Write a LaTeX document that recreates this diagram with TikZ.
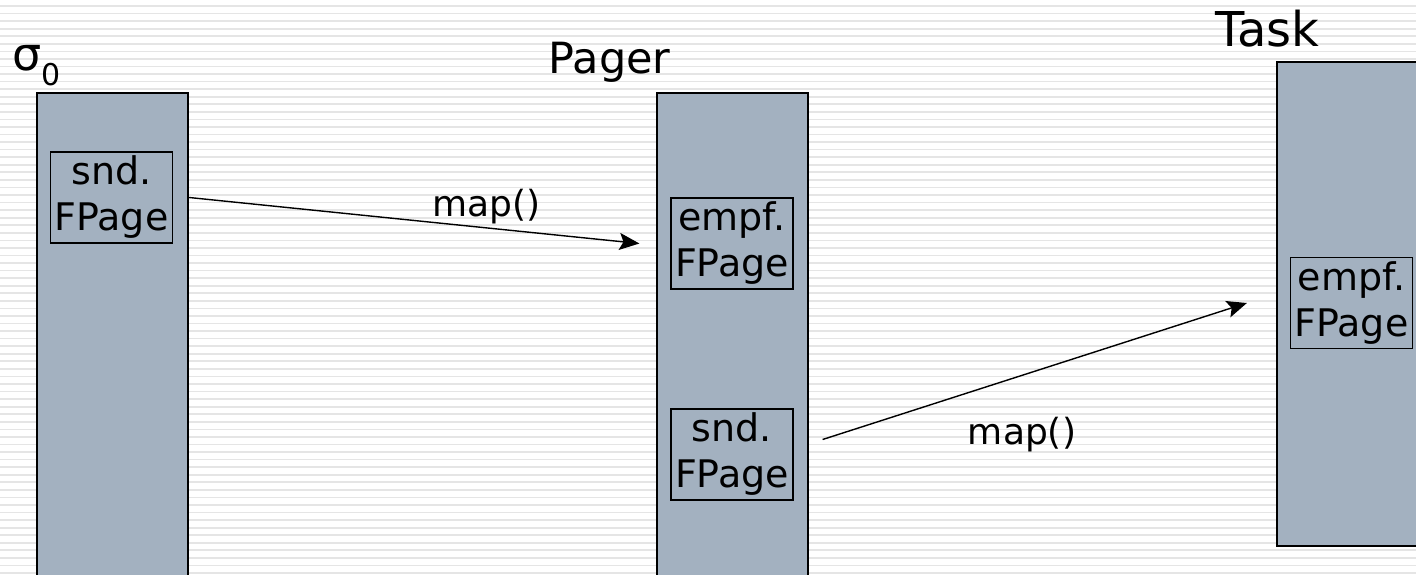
\documentclass[tikz,border=0pt]{standalone}
\usepackage{fontspec}
\setmainfont{DejaVu Sans}
\usetikzlibrary{arrows.meta}
\usetikzlibrary{positioning}
\definecolor{spacefill}{RGB}{163,177,192}
\definecolor{stripegray}{RGB}{229,229,229}

\begin{document}
\begin{tikzpicture}[x=1pt,y=-1pt,line width=1.4pt]
		\tikzstyle{addrspace}=[draw,line width=2.2pt,fill=spacefill,anchor=north west,inner sep=0pt]
		\tikzstyle{fpage}=[draw,line width=1.2pt,align=center,minimum width=122pt,
		minimum height=91pt,inner sep=0pt,font=\fontsize{38}{46}\selectfont]
		\tikzstyle{title}=[anchor=base west,inner sep=0pt]
		\tikzstyle{msg}=[inner sep=0pt,font=\fontsize{36}{40}\selectfont]
		\tikzstyle{call}=[-{Stealth[length=20pt,width=17pt,inset=4pt]}]
		
		\useasboundingbox (0,0) rectangle (1416,574);
		% striped background
		\foreach \i in {0,...,75}
		\draw[stripegray,line width=1.7pt] (0,6+\i*7.56) -- (1416,6+\i*7.56);
		
		% the three address spaces
		\node[addrspace,minimum width=151pt,minimum height=500pt] (Sigma) at (36,92) {};
		\node[addrspace,minimum width=151pt,minimum height=500pt] (Pager) at (656,92) {};
		\node[addrspace,minimum width=153pt,minimum height=484pt] (Task)  at (1276,61) {};
		
		\node[title,font=\fontsize{46}{50}\selectfont] (SigmaName) at (12,70)
		{σ\raisebox{-15pt}{\fontsize{30}{36}\selectfont 0}};
		\node[title,font=\fontsize{43}{50}\selectfont] (PagerName) at (548,73) {Pager};
		\node[title,font=\fontsize{48}{54}\selectfont] (TaskName)  at (1215,46) {Task};
		
		% flexpages
		\node[fpage] (SndSigma)  at (111.5,197.5) {snd.\\FPage};
		\node[fpage] (EmpfPager) at (732,243.5)   {empf.\\FPage};
		\node[fpage] (SndPager)  at (732,454.5)   {snd.\\FPage};
		\node[fpage] (EmpfTask)  at (1351.5,303)  {empf.\\FPage};
		
		\draw[call] (Sigma.east |- SndSigma) -- ([xshift=-31pt]EmpfPager.west)
		node[msg,pos=0.66,above=3pt] (MapOne) {map()};
		\draw[call] ([xshift=29pt,yshift=15pt]SndPager.east) -- ([xshift=-43pt]EmpfTask.west)
		node[msg,pos=0.47,below=41pt] (MapTwo) {map()};
\end{tikzpicture}
\end{document}
